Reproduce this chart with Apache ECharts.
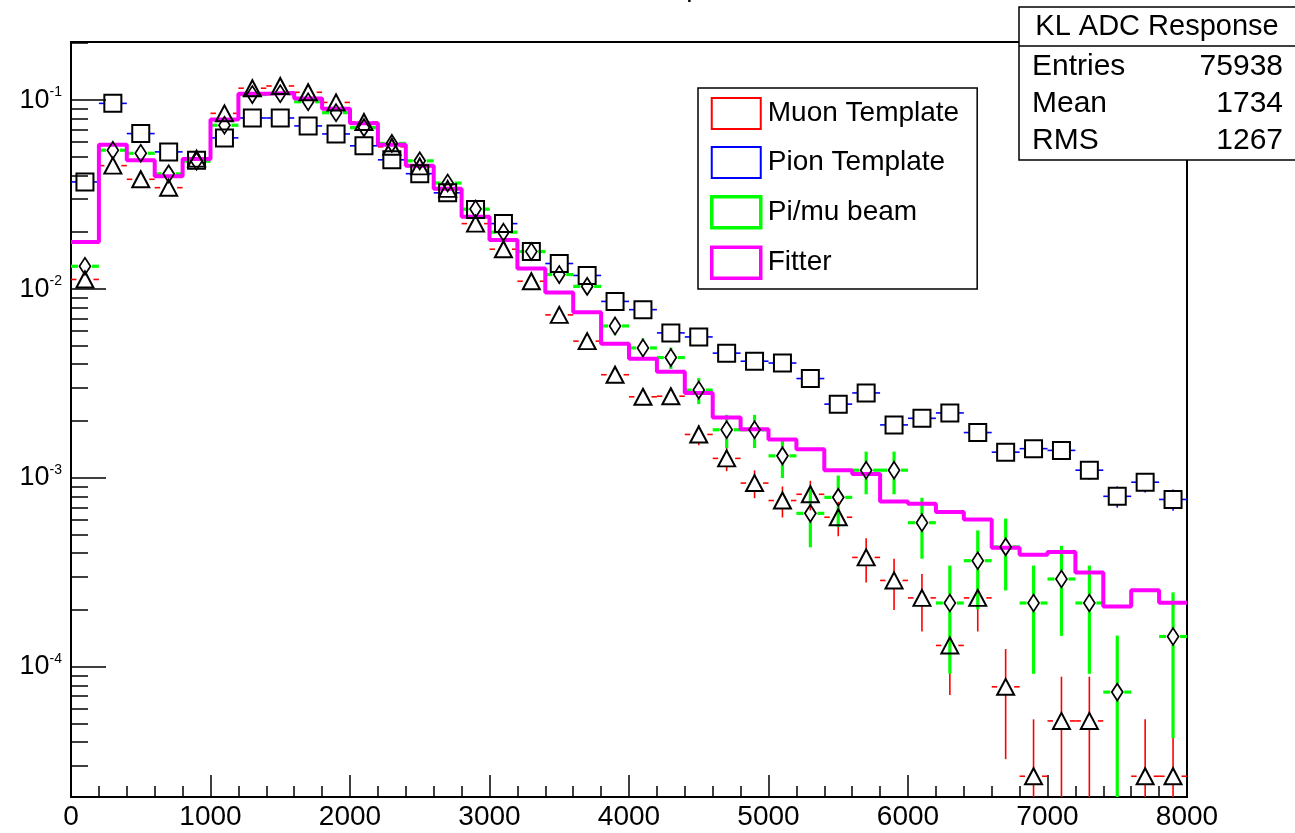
<!DOCTYPE html>
<html>
<head>
<meta charset="utf-8">
<script src="https://cdn.jsdelivr.net/npm/echarts@6/dist/echarts.min.js"></script>
<style>html,body{margin:0;padding:0;background:#fff}#c{width:1295px;height:833px}</style>
</head>
<body>
<div id="c"></div>
<script>
// ---------------- data ----------------
const binCenters = [100,300,500,700,900,1100,1300,1500,1700,1900,2100,2300,2500,2700,2900,3100,3300,3500,3700,3900,
                    4100,4300,4500,4700,4900,5100,5300,5500,5700,5900,6100,6300,6500,6700,6900,7100,7300,7500,7700,7900];
const binWidth = 200;

const muonTemplate = [0.01124,0.0450,0.0381,0.0344,0.049,0.0851,0.1156,0.1188,0.110,0.0972,
                      0.0766,0.0566,0.0446,0.0339,0.0222,0.01625,0.0110,0.0073,0.0053,0.00352,
                      0.00269,0.00271,0.0017,0.00127,0.00094,0.00076,0.00082,0.00062,0.00038,0.000287,
                      0.000232,0.000130,0.000232,0.0000785,0.0000264,0.0000518,0.0000518,null,0.0000264,0.0000264];
const muonErr = [0.00054,0.00109,0.0010,0.00095,0.00114,0.0015,0.00175,0.00177,0.0017,0.0016,
                 0.00142,0.00122,0.00109,0.00095,0.00077,0.00065,0.00054,0.00044,0.00037,0.000305,
                 0.000266,0.000267,0.00021,0.000183,0.000158,0.000142,0.000147,0.000128,0.0001,0.000087,
                 0.000078,0.000059,0.000078,0.000046,0.0000264,0.000037,0.000037,0,0.0000264,0.0000264];

const pionTemplate = [0.0369,0.0961,0.0665,0.0532,0.048,0.0631,0.0804,0.0804,0.073,0.0662,
                      0.0573,0.0483,0.0408,0.0323,0.0264,0.0222,0.0158,0.01365,0.0118,0.0086,
                      0.00778,0.00586,0.00558,0.00458,0.00415,0.00406,0.00336,0.00246,0.00282,0.00191,
                      0.00207,0.00221,0.00174,0.00137,0.00143,0.0014,0.0011,0.0008,0.00095,0.00077];
const pionErr = [0.0007,0.00113,0.00094,0.00084,0.0008,0.00091,0.00103,0.00103,0.00098,0.00093,
                 0.00087,0.0008,0.00073,0.00065,0.00059,0.00054,0.00046,0.00042,0.00039,0.00034,
                 0.00032,0.00028,0.00027,0.00025,0.00023,0.00023,0.00021,0.00018,0.00019,0.00016,
                 0.000165,0.00017,0.00015,0.000135,0.000137,0.000136,0.00012,0.000103,0.000112,0.0001];

const pimuBeam = [0.0132,0.0543,0.0523,0.0407,0.0475,0.0736,0.107,0.108,0.098,0.0858,
                  0.0715,0.059,0.0477,0.0364,0.0265,0.020,0.0158,0.01193,0.01033,0.00638,
                  0.00488,0.00434,0.00292,0.0018,0.0018,0.00131,0.00065,0.00079,0.0011,0.0011,
                  0.00058,0.000218,0.000365,0.000432,0.000218,0.000292,0.000218,0.0000736,null,0.000145];
const pimuErr = [0.00098,0.00199,0.00195,0.00172,0.00186,0.00232,0.00279,0.00281,0.00267,0.0025,
                 0.00228,0.00208,0.00187,0.00163,0.00139,0.00121,0.00107,0.00093,0.00087,0.00068,
                 0.0006,0.00056,0.00046,0.00036,0.00036,0.00031,0.00022,0.00024,0.00028,0.00028,
                 0.000206,0.000126,0.000163,0.000178,0.000126,0.000146,0.000126,0.000073,0,0.000103];

const fitter = [0.01773,0.058,0.048,0.0395,0.0488,0.079,0.108,0.109,0.102,0.090,
                0.0754,0.058,0.045,0.034,0.0241,0.0182,0.01286,0.0096,0.00753,0.00514,
                0.00428,0.00365,0.00282,0.00209,0.00181,0.0016,0.00142,0.0011,0.00105,0.00075,
                0.00073,0.00066,0.000603,0.000428,0.000392,0.000406,0.000316,0.000209,0.000255,0.000219];

const xMin = 0, xMax = 8000, xInterval = 1000;
const yMin = 2.05e-5, yMax = 0.203;
const yMajorTicks = [1e-4, 1e-3, 1e-2, 1e-1];
const yMinorTicks = [3e-5,4e-5,5e-5,6e-5,7e-5,8e-5,9e-5,
                     2e-4,3e-4,4e-4,5e-4,6e-4,7e-4,8e-4,9e-4,
                     2e-3,3e-3,4e-3,5e-3,6e-3,7e-3,8e-3,9e-3,
                     2e-2,3e-2,4e-2,5e-2,6e-2,7e-2,8e-2,9e-2,2e-1];

const legendNames = ['Muon Template','Pion Template','Pi/mu beam','Fitter'];
const statsTitle = 'KL ADC Response';
const statsLabels = ['Entries','Mean','RMS'];
const statsValues = ['75938','1734','1267'];
const plotTitle = 'KL ADC Response';

// ---------------- chart ----------------
const FONT = "'Liberation Sans', Arial, Helvetica, sans-serif";
const RED = '#ff0000', BLUE = '#0000ff', GREEN = '#00ff00', MAG = '#ff00ff';

function pts(vals, errs) {
  const out = [];
  for (let i = 0; i < binCenters.length; i++) {
    if (vals[i] == null) continue;
    out.push([binCenters[i], vals[i], errs ? errs[i] : 0]);
  }
  return out;
}

function makeErrRender(color, width, gx, gy) {
  return function (params, api) {
    const c = api.value(0), v = api.value(1), e = api.value(2);
    const cs = params.coordSys;
    const yBot = cs.y + cs.height, yTop = cs.y;
    const p = api.coord([c, v]);
    const xl = api.coord([c - binWidth / 2, v])[0];
    const xr = api.coord([c + binWidth / 2, v])[0];
    let top = api.coord([c, v + e])[1];
    let bot = (v - e) > 0 ? api.coord([c, v - e])[1] : yBot;
    top = Math.max(top, yTop);
    bot = Math.min(bot, yBot);
    const segs = [[xl, p[1], p[0] - gx, p[1]], [p[0] + gx, p[1], xr, p[1]]];
    if (top < p[1] - gy) segs.push([p[0], top, p[0], p[1] - gy]);
    if (bot > p[1] + gy) segs.push([p[0], p[1] + gy, p[0], bot]);
    return {
      type: 'group',
      children: segs.map(s => ({
        type: 'line',
        shape: { x1: s[0], y1: s[1], x2: s[2], y2: s[3] },
        style: { stroke: color, lineWidth: width }
      }))
    };
  };
}

const stepData = [];
for (let i = 0; i < binCenters.length; i++) stepData.push([binCenters[i] - binWidth / 2, fitter[i]]);
stepData.push([binCenters[binCenters.length - 1] + binWidth / 2, fitter[fitter.length - 1]]);

const hollow = (w) => ({ color: 'rgba(0,0,0,0)', borderColor: '#000', borderWidth: w, opacity: 1 });

const chart = echarts.init(document.getElementById('c'), null, { renderer: 'canvas' });
chart.setOption({
  animation: false,
  backgroundColor: '#fff',
  grid: { left: 71, right: 108, top: 42, bottom: 36, show: true, borderColor: '#000', borderWidth: 2, backgroundColor: 'rgba(0,0,0,0)' },
  legend: {
    orient: 'vertical', left: 698, top: 88,
    itemWidth: 49, itemHeight: 31, itemGap: 16,
    padding: [9, 18, 9, 12],
    borderColor: '#000', borderWidth: 1.5, backgroundColor: '#fff',
    selectedMode: false,
    textStyle: { fontSize: 28, color: '#000', fontFamily: FONT, padding: [0, 0, 0, 2] },
    data: [
      { name: legendNames[0], icon: 'rect', itemStyle: { color: 'rgba(0,0,0,0)', borderColor: RED, borderWidth: 2 } },
      { name: legendNames[1], icon: 'rect', itemStyle: { color: 'rgba(0,0,0,0)', borderColor: BLUE, borderWidth: 2 } },
      { name: legendNames[2], icon: 'rect', itemStyle: { color: 'rgba(0,0,0,0)', borderColor: GREEN, borderWidth: 3.5 } },
      { name: legendNames[3], icon: 'rect', itemStyle: { color: 'rgba(0,0,0,0)', borderColor: MAG, borderWidth: 3.5 } }
    ],
    z: 50
  },
  xAxis: {
    type: 'value', min: xMin, max: xMax, interval: xInterval,
    axisLine: { show: true, onZero: false, lineStyle: { color: '#000', width: 2 } },
    axisTick: { show: true, inside: true, length: 22, lineStyle: { color: '#000', width: 1.5 } },
    minorTick: { show: true, splitNumber: 5, length: 11, lineStyle: { color: '#000', width: 1.5 } },
    axisLabel: { fontSize: 28, color: '#000', fontFamily: FONT, margin: 6, showMinLabel: true, showMaxLabel: true,
                 formatter: function (v) { return String(v); } },
    splitLine: { show: false }, minorSplitLine: { show: false }
  },
  yAxis: [
    {
      type: 'log', logBase: 10, min: yMin, max: yMax,
      axisLine: { show: true, onZero: false, lineStyle: { color: '#000', width: 2 } },
      axisTick: { show: true, inside: true, length: 35, customValues: yMajorTicks, lineStyle: { color: '#000', width: 1.5 } },
      axisLabel: {
        customValues: yMajorTicks, margin: 9,
        formatter: function (v) { const e = Math.round(Math.log10(v)); return '{a|10}{b|' + e + '}'; },
        rich: {
          a: { fontSize: 27, fontFamily: FONT, color: '#000', lineHeight: 30 },
          b: { fontSize: 14, fontFamily: FONT, color: '#000', lineHeight: 14, verticalAlign: 'top' }
        }
      },
      splitLine: { show: false }
    },
    {
      type: 'log', logBase: 10, min: yMin, max: yMax, position: 'left', offset: 0,
      axisLine: { show: false },
      axisTick: { show: true, inside: true, length: 17, customValues: yMinorTicks, lineStyle: { color: '#000', width: 1.5 } },
      axisLabel: { show: false },
      splitLine: { show: false }
    }
  ],
  graphic: [
    { type: 'text', x: 645, y: -12, z: 120,
      style: { text: plotTitle, fontSize: 28, fontFamily: FONT, fill: '#000', align: 'center', verticalAlign: 'middle' } },
    { type: 'rect', z: 100, shape: { x: 1019, y: 7, width: 300, height: 153 },
      style: { fill: '#fff', stroke: '#000', lineWidth: 1.5 } },
    { type: 'line', z: 101, shape: { x1: 1019, y1: 46, x2: 1295, y2: 46 }, style: { stroke: '#000', lineWidth: 1.5 } },
    { type: 'text', z: 102, x: 1157, y: 27,
      style: { text: statsTitle, fontSize: 29, fontFamily: FONT, fill: '#000', align: 'center', verticalAlign: 'middle' } }
  ].concat(statsLabels.map((t, i) => ({
    type: 'text', z: 102, x: 1032, y: 67 + i * 37,
    style: { text: t, fontSize: 30, fontFamily: FONT, fill: '#000', align: 'left', verticalAlign: 'middle' }
  }))).concat(statsValues.map((t, i) => ({
    type: 'text', z: 102, x: 1283, y: 67 + i * 37,
    style: { text: t, fontSize: 30, fontFamily: FONT, fill: '#000', align: 'right', verticalAlign: 'middle' }
  }))),
  series: [
    { name: legendNames[0], type: 'custom', renderItem: makeErrRender(RED, 1.6, 8.5, 8), data: pts(muonTemplate, muonErr),
      encode: { x: 0, y: 1 }, itemStyle: { color: RED }, z: 2, silent: true },
    { name: legendNames[1], type: 'custom', renderItem: makeErrRender(BLUE, 1.6, 8.5, 8.5), data: pts(pionTemplate, pionErr),
      encode: { x: 0, y: 1 }, itemStyle: { color: BLUE }, z: 2, silent: true },
    { name: legendNames[2], type: 'custom', renderItem: makeErrRender(GREEN, 3.2, 7, 8.5), data: pts(pimuBeam, pimuErr),
      encode: { x: 0, y: 1 }, itemStyle: { color: GREEN }, z: 2, silent: true },
    { name: 'fitterLine', type: 'line', step: 'end', data: stepData, showSymbol: false, symbol: 'none',
      lineStyle: { color: MAG, width: 4 }, z: 3, silent: true },
    { name: legendNames[3], type: 'custom', renderItem: function () { return null; }, data: [], itemStyle: { color: MAG } },
    { name: 'muonMarkers', type: 'scatter', data: pts(muonTemplate).map(d => [d[0], d[1]]),
      symbol: 'triangle', symbolSize: [17, 16], itemStyle: hollow(2), z: 4, silent: true },
    { name: 'pionMarkers', type: 'scatter', data: pts(pionTemplate).map(d => [d[0], d[1]]),
      symbol: 'rect', symbolSize: [17, 17], itemStyle: hollow(2), z: 4, silent: true },
    { name: 'beamMarkers', type: 'scatter', data: pts(pimuBeam).map(d => [d[0], d[1]]),
      symbol: 'diamond', symbolSize: [11, 17], itemStyle: hollow(1.8), z: 5, silent: true }
  ]
});
</script>
</body>
</html>
